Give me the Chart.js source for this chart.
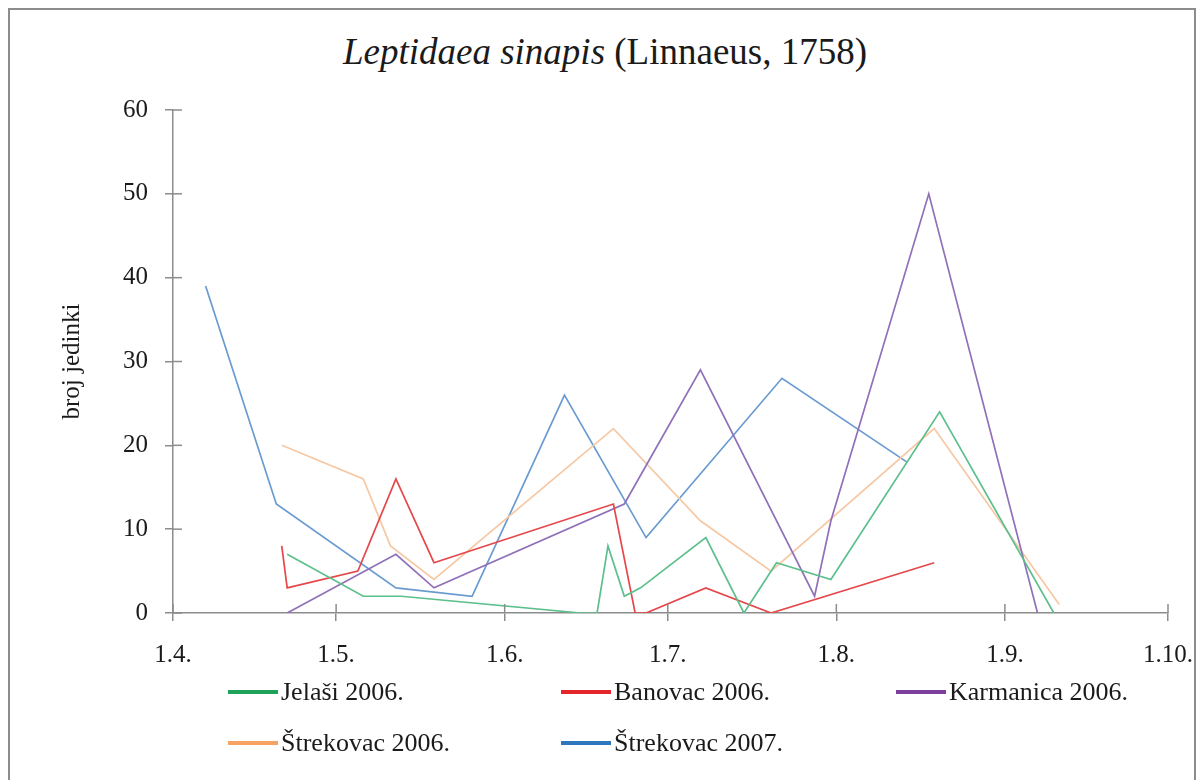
<!DOCTYPE html>
<html>
<head>
<meta charset="utf-8">
<script src="https://cdn.jsdelivr.net/npm/chart.js@4.4.1/dist/chart.umd.min.js"></script>
<style>
  html, body { margin: 0; padding: 0; background: #fff; }
  #wrap { position: relative; width: 1202px; height: 780px; overflow: hidden;
          font-family: "Liberation Serif", "Times New Roman", serif; color: #1a1a1a; }
  #frame { position: absolute; left: 8px; top: 8px; width: 1188px; height: 820px;
           border: 2px solid #8c8c8c; box-sizing: border-box; }
  #title { position: absolute; top: 30px; left: 0; width: 1210px; text-align: center;
           font-size: 37px; line-height: 44px; }
  canvas { position: absolute; left: 0; top: 0; }
  .leg { position: absolute; font-size: 26px; line-height: 28px; white-space: nowrap; }
  .leg span.line { display: inline-block; width: 50px; height: 4px; vertical-align: middle;
                   margin-right: 3px; position: relative; top: -2px; }
</style>
</head>
<body>
<div id="wrap">
  <div id="frame"></div>
  <div id="title"><i>Leptidaea sinapis</i> (Linnaeus, 1758)</div>
  <canvas id="chart" width="1202" height="780"></canvas>
  <div id="legend"></div>
</div>
<script>
// --- Axis ticks ---
const monthTicks = [0, 30, 61, 91, 122, 153, 183];   // days after 1.4.
const monthLabels = ['1.4.', '1.5.', '1.6.', '1.7.', '1.8.', '1.9.', '1.10.'];

// --- Series (date d.m., number of individuals) ---
const seriesNames = ['Jelaši 2006.', 'Banovac 2006.', 'Karmanica 2006.', 'Štrekovac 2006.', 'Štrekovac 2007.'];

const jelasiDates = ['22.4.', '6.5.', '13.5.', '15.6.', '18.6.', '20.6.', '23.6.', '26.6.', '8.7.', '15.7.', '21.7.', '31.7.', '20.8.', '10.9.'];
const jelasiCounts = [7, 2, 2, 0, 0, 8, 2, 3, 9, 0, 6, 4, 24, 0];

const banovacDates = ['21.4.', '22.4.', '5.5.', '12.5.', '19.5.', '21.6.', '25.6.', '27.6.', '8.7.', '20.7.', '19.8.'];
const banovacCounts = [8, 3, 5, 16, 6, 13, 0, 0, 3, 0, 6];

const karmanicaDates = ['22.4.', '12.5.', '19.5.', '23.6.', '7.7.', '28.7.', '31.7.', '18.8.', '7.9.'];
const karmanicaCounts = [0, 7, 3, 13, 29, 2, 11, 50, 0];

const strekovac06Dates = ['21.4.', '6.5.', '11.5.', '19.5.', '21.6.', '7.7.', '20.7.', '19.8.', '11.9.'];
const strekovac06Counts = [20, 16, 8, 4, 22, 11, 5, 22, 1];

const strekovac07Dates = ['7.4.', '20.4.', '12.5.', '26.5.', '12.6.', '27.6.', '22.7.', '14.8.'];
const strekovac07Counts = [39, 13, 3, 2, 26, 9, 28, 18];

// --- Colours ---
const lineColors = ['#5cbf8c', '#e5474a', '#9070b8', '#f6c8a4', '#6a9bd0'];
const legendColors = ['#1fa35b', '#e3262c', '#7d3f9e', '#f5a263', '#2e77bd'];

function dayOffset(s) {
    const [d, m] = s.split('.').map(Number);
    return (Date.UTC(2006, m - 1, d) - Date.UTC(2006, 3, 1)) / 86400000;
}

function toPoints(dates, counts) {
    return dates.map((d, i) => ({ x: dayOffset(d), y: counts[i] }));
}

const allDates = [jelasiDates, banovacDates, karmanicaDates, strekovac06Dates, strekovac07Dates];
const allCounts = [jelasiCounts, banovacCounts, karmanicaCounts, strekovac06Counts, strekovac07Counts];

const datasets = seriesNames.map((name, i) => ({
    label: name,
    data: toPoints(allDates[i], allCounts[i]),
    borderColor: lineColors[i],
    backgroundColor: lineColors[i],
    borderWidth: 1.7,
    pointRadius: 0,
    tension: 0,
    showLine: true,
    fill: false
}));

const axisColor = '#8c8c8c';
const tickFont = { family: '"Liberation Serif", "Times New Roman", serif', size: 25 };

// tick marks also cross into the plot area, as in the original
const innerTicks = {
    id: 'innerTicks',
    afterDraw(chart) {
        const { ctx, chartArea, scales } = chart;
        ctx.save();
        ctx.strokeStyle = axisColor;
        ctx.lineWidth = 1.5;
        scales.y.ticks.forEach(t => {
            const py = scales.y.getPixelForValue(t.value);
            ctx.beginPath();
            ctx.moveTo(chartArea.left, py);
            ctx.lineTo(chartArea.left + 9, py);
            ctx.stroke();
        });
        scales.x.ticks.forEach(t => {
            const px = scales.x.getPixelForValue(t.value);
            ctx.beginPath();
            ctx.moveTo(px, chartArea.bottom);
            ctx.lineTo(px, chartArea.bottom - 9);
            ctx.stroke();
        });
        ctx.restore();
    }
};

new Chart(document.getElementById('chart'), {
    type: 'scatter',
    data: { datasets },
    options: {
        responsive: false,
        animation: false,
        layout: { padding: { left: 0, top: 110, right: 34, bottom: 107 } },
        plugins: { legend: { display: false }, tooltip: { enabled: false } },
        scales: {
            x: {
                type: 'linear',
                min: 0,
                max: 183,
                afterBuildTicks: axis => { axis.ticks = monthTicks.map(v => ({ value: v })); },
                afterFit: scale => {
                    scale.height = 60;
                    scale.paddingLeft = 0;
                    scale.paddingRight = 0;
                },
                ticks: {
                    autoSkip: false,
                    maxRotation: 0,
                    padding: 19,
                    color: '#1a1a1a',
                    font: tickFont,
                    callback: v => monthLabels[monthTicks.indexOf(v)]
                },
                grid: { drawOnChartArea: false, tickLength: 8, color: axisColor, lineWidth: 1.5 },
                border: { color: axisColor, width: 1.5 }
            },
            y: {
                min: 0,
                max: 60,
                afterFit: scale => { scale.width = 173; },
                ticks: { stepSize: 10, padding: 17, color: '#1a1a1a', font: tickFont },
                grid: { drawOnChartArea: false, tickLength: 8, color: axisColor, lineWidth: 1.5 },
                border: { color: axisColor, width: 1.5 },
                title: {
                    display: true,
                    text: 'broj jedinki',
                    color: '#1a1a1a',
                    font: tickFont,
                    padding: { top: 57, bottom: 0 }
                }
            }
        }
    },
    plugins: [innerTicks]
});

// --- Legend (three columns, two rows) ---
const legendCols = [228, 561, 896];
const legendRows = [678, 729];
const legendEl = document.getElementById('legend');
seriesNames.forEach((name, i) => {
    const item = document.createElement('div');
    item.className = 'leg';
    item.style.left = legendCols[i % 3] + 'px';
    item.style.top = legendRows[Math.floor(i / 3)] + 'px';
    const line = document.createElement('span');
    line.className = 'line';
    line.style.background = legendColors[i];
    item.appendChild(line);
    item.appendChild(document.createTextNode(name));
    legendEl.appendChild(item);
});
</script>
</body>
</html>
